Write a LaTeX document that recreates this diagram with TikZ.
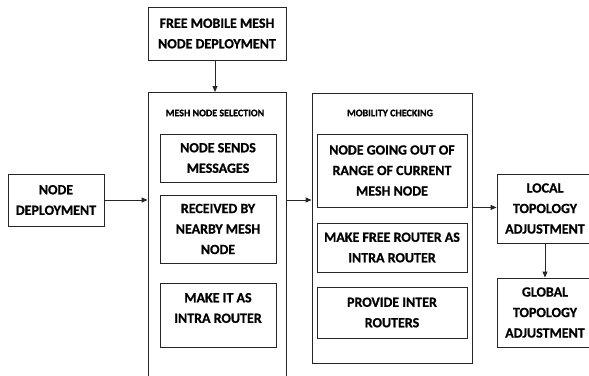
\documentclass[tikz,border=0pt]{standalone}
\usepackage{fontspec}
\setmainfont{Carlito}[BoldFont={Carlito Bold},BoldFeatures={FakeBold=0.8}]
\usetikzlibrary{arrows.meta,calc}
\begin{document}
\begin{tikzpicture}[x=1pt,y=-1pt,
  box/.style={draw=black!85,line width=0.9pt,align=center,inner sep=0pt,
    font=\bfseries\fontsize{14}{20.5}\selectfont},
  frame/.style={draw=black!85,line width=0.9pt,inner sep=0pt},
  ttl/.style={font=\bfseries\fontsize{10}{11}\selectfont,inner sep=0pt},
  arr/.style={draw=black!85,line width=0.9pt,-{Triangle[length=6pt,width=5pt]}}]
\clip (0,0) rectangle (589,375);
% left
\node[box,minimum width=96pt,minimum height=52pt] (deploy) at (56,200) {NODE\\DEPLOYMENT};
% top
\node[box,minimum width=138pt,minimum height=53pt] (free) at (217,33.5) {FREE MOBILE MESH\\NODE DEPLOYMENT};
% mesh node selection container
\node[frame,minimum width=138pt,minimum height=300pt,anchor=north] (sel) at (217,92) {};
\node[ttl] (selt) at (215,113) {MESH NODE SELECTION};
\node[box,minimum width=116pt,minimum height=48pt] (s1) at (218,158) {NODE SENDS\\MESSAGES};
\node[box,minimum width=116pt,minimum height=68pt] (s2) at (218,229) {RECEIVED BY\\NEARBY MESH\\NODE};
\node[box,minimum width=116pt,minimum height=64pt] (s3) at (218,315) {};
\node[box,draw=none] (s3t) at (218,308) {MAKE IT AS\\INTRA ROUTER};
% mobility checking container
\node[frame,minimum width=160pt,minimum height=270pt] (mob) at (392,228) {};
\node[ttl] (mobt) at (390,113) {MOBILITY CHECKING};
\node[box,minimum width=150pt,minimum height=73pt] (m1) at (392,170.5) {NODE GOING OUT OF\\RANGE OF CURRENT\\MESH NODE};
\node[box,minimum width=150pt,minimum height=49pt] (m2) at (392,247.5) {MAKE FREE ROUTER AS\\INTRA ROUTER};
\node[box,minimum width=150pt,minimum height=51pt] (m3) at (392,312.5) {PROVIDE INTER\\ROUTERS};
% right
\node[box,minimum width=96pt,minimum height=69pt] (local) at (545,208.5) {LOCAL\\TOPOLOGY\\ADJUSTMENT};
\node[box,minimum width=96pt,minimum height=69pt] (global) at (545,312.5) {GLOBAL\\TOPOLOGY\\ADJUSTMENT};
% connectors
\draw[arr] (free.south -| 215,0) -- (sel.north -| 215,0);
\draw[arr] (deploy.east) -- (deploy.east -| sel.west);
\draw[arr] (sel.east |- deploy.east) -- (mob.west |- deploy.east);
\draw[arr] (mob.east |- m1.south) -- (local.west |- m1.south);
\draw[arr] (local.south) -- (global.north);
\end{tikzpicture}
\end{document}
